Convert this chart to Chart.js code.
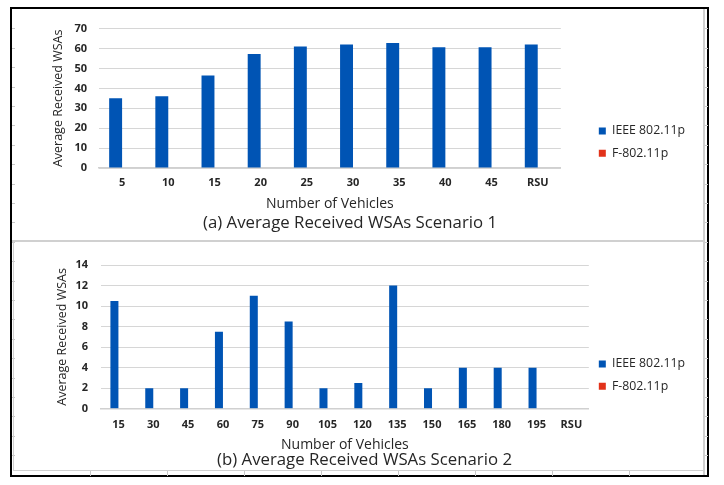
<!DOCTYPE html>
<html>
<head>
<meta charset="utf-8">
<script src="https://cdn.jsdelivr.net/npm/chart.js@4.4.0/dist/chart.umd.min.js"></script>
<style>
  body { margin: 0; background: #fff; width: 724px; height: 485px; overflow: hidden; position: relative; }
  .abs { position: absolute; }
  #frame { left: 10px; top: 7px; width: 695px; height: 466px; border: 2px solid #000; }
  .gray { background: #d0d0d0; }
  .rows { background: repeating-linear-gradient(to bottom, transparent 0, transparent 18.4px, #c8c8c8 18.4px, #c8c8c8 19.4px); }
  .cols { background: repeating-linear-gradient(to right, transparent 0, transparent 76px, #c8c8c8 76px, #c8c8c8 77px); }
  canvas { position: absolute; }
</style>
</head>
<body>
<div class="abs" id="frame"></div>
<div class="abs rows" style="left:12px; top:10px; width:3px; height:464px;"></div>
<div class="abs rows" style="left:705px; top:10px; width:3px; height:464px;"></div>
<div class="abs gray" style="left:703px; top:9px; width:2px; height:466px;"></div>
<div class="abs gray" style="left:12px; top:240px; width:692px; height:2px;"></div>
<div class="abs gray" style="left:13px; top:241px; width:1px; height:230px;"></div>
<div class="abs gray" style="left:13px; top:470px; width:691px; height:1px;"></div>
<div class="abs cols" style="left:14px; top:471px; width:689px; height:5px;"></div>

<canvas id="chartA" width="719" height="230" style="left:5px; top:10px;"></canvas>
<canvas id="chartB" width="719" height="230" style="left:5px; top:243px;"></canvas>

<script>
// series shown in both panels
const seriesNames = ['IEEE 802.11p', 'F-802.11p'];
const seriesColors = ['#0054B4', '#E2321A'];

// (a) scenario 1
const vehiclesA = ['5', '10', '15', '20', '25', '30', '35', '40', '45', 'RSU'];
const ieeeA = [35, 36, 46.5, 57.2, 61, 62, 62.8, 60.6, 60.6, 62];
const fA = [0, 0, 0, 0, 0, 0, 0, 0, 0, 0];
const yRangeA = [0, 70, 10];

// (b) scenario 2
const vehiclesB = ['15', '30', '45', '60', '75', '90', '105', '120', '135', '150', '165', '180', '195', 'RSU'];
const ieeeB = [10.5, 2, 2, 7.5, 11, 8.5, 2, 2.5, 12, 2, 4, 4, 4, 0];
const fB = [0, 0, 0, 0, 0, 0, 0, 0, 0, 0, 0, 0, 0, 0];
const yRangeB = [0, 14, 2];

const FONT = "'Open Sans', sans-serif";
const TEXT = '#262626';

function makeChart(id, p) {
  const scales = {
    x: {
      grid: { display: false, drawTicks: false },
      border: { color: '#d0d0d0', width: 1.5 },
      ticks: { color: TEXT, padding: p.tickPad, font: { family: FONT, size: 11, weight: 'bold' } },
      title: {
        display: true, text: 'Number of Vehicles', color: TEXT,
        font: { family: FONT, size: 14 }, padding: p.xTitlePad
      },
      afterFit: s => { s.height = p.xHeight; }
    },
    y: {
      min: p.yRange[0], max: p.yRange[1],
      grid: { color: '#d6d6d6', drawTicks: false },
      border: { display: false },
      ticks: { stepSize: p.yRange[2], color: TEXT, padding: p.yTickPad, font: { family: FONT, size: 11, weight: 'bold' } },
      title: {
        display: true, text: 'Average Received WSAs', color: TEXT,
        font: { family: FONT, size: 12.5 }, padding: { top: p.yTitlePad, bottom: 0 }
      },
      afterFit: s => { s.width = p.yWidth; }
    }
  };
  if (p.spacer) {
    scales.spacer = {
      type: 'linear', position: 'right', display: true,
      grid: { display: false, drawTicks: false }, border: { display: false },
      ticks: { display: false },
      afterFit: s => { s.width = p.spacer; }
    };
  }
  return new Chart(document.getElementById(id), {
    type: 'bar',
    data: {
      labels: p.labels,
      datasets: [
        { label: seriesNames[0], data: p.values[0], backgroundColor: seriesColors[0] },
        { label: seriesNames[1], data: p.values[1], backgroundColor: seriesColors[1] }
      ]
    },
    options: {
      responsive: false,
      animation: false,
      categoryPercentage: p.catPct,
      barPercentage: 1,
      layout: { padding: p.padding },
      scales: scales,
      plugins: {
        tooltip: { enabled: false },
        title: {
          display: true, position: 'bottom', text: p.title, color: TEXT,
          font: { family: FONT, size: 16.8, weight: 'normal' }, padding: p.titlePad
        },
        legend: {
          position: 'right',
          title: { display: true, text: '', font: { size: p.legendShift }, padding: 0 },
          labels: { boxWidth: 7, boxHeight: 7, padding: 10, color: TEXT, font: { family: FONT, size: 12.3 } }
        }
      }
    }
  });
}

makeChart('chartA', {
  labels: vehiclesA, values: [ieeeA, fA], yRange: yRangeA,
  title: '(a) Average Received WSAs Scenario 1',
  catPct: 0.56, tickPad: 8, yTickPad: 12, yWidth: 94, yTitlePad: 45.5, spacer: 28,
  xHeight: 42.4, xTitlePad: { top: 4, bottom: -2 }, titlePad: { top: 2.5, bottom: 3 },
  padding: { top: 14, left: 0, right: 29, bottom: 3.9 }, legendShift: 20
});

makeChart('chartB', {
  labels: vehiclesB, values: [ieeeB, fB], yRange: yRangeB,
  title: '(b) Average Received WSAs Scenario 2',
  catPct: 0.46, tickPad: 9.2, yTickPad: 13, yWidth: 67, yTitlePad: 20.5, spacer: 0,
  xHeight: 41.2, xTitlePad: { top: 4, bottom: -3.3 }, titlePad: { top: 0.5, bottom: 2 },
  padding: { top: 22, left: 29, right: 29, bottom: 0.4 }, legendShift: 10.5
});
</script>
</body>
</html>
